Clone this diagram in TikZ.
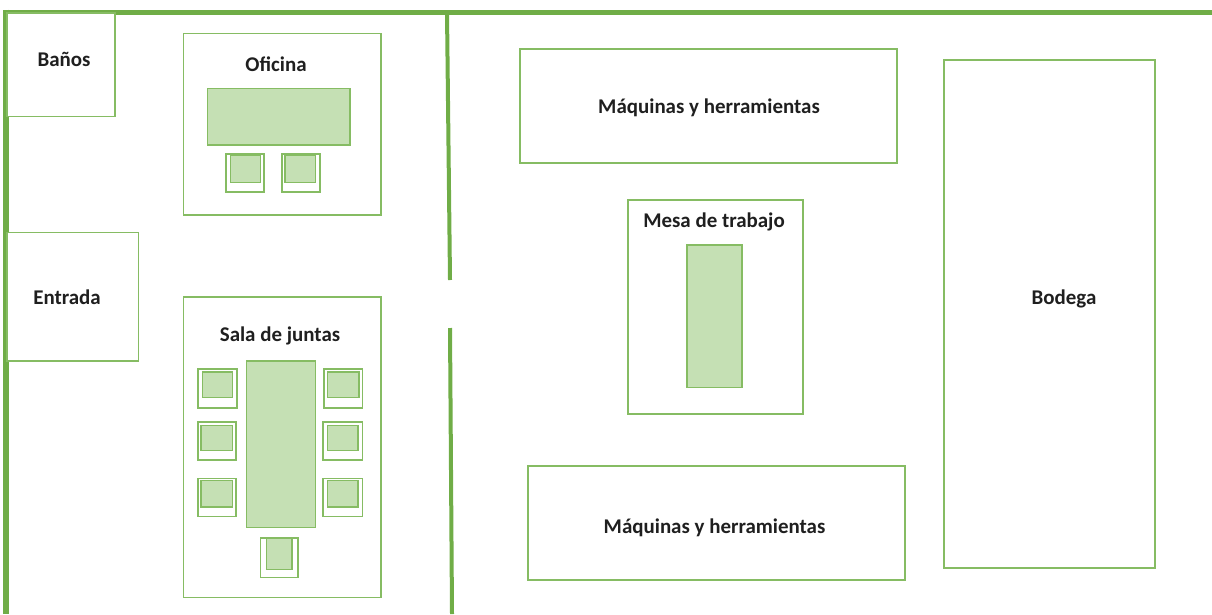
\documentclass[tikz,border=0pt]{standalone}
\usepackage{fontspec}
\setmainfont{Carlito}
\tikzset{
  x=0.75pt,y=-0.75pt,
  wall/.style={draw=wallgreen,line width=4.4pt},
  wallthin/.style={draw=wallgreen,line width=3pt},
  room/.style={draw=linegreen,line width=0.95pt,fill=white},
  seatback/.style={draw=linegreen,line width=0.95pt,fill=white},
  furn/.style={draw=linegreen,line width=1.2pt,fill=furngreen},
  lab/.style={font=\bfseries\fontsize{15.7pt}{18pt}\selectfont,text=black!88,inner sep=0pt},
}
\definecolor{wallgreen}{HTML}{70AD47}
\definecolor{linegreen}{HTML}{86BC63}
\definecolor{furngreen}{HTML}{C5E0B4}
\newcommand{\seat}[8]{%
  \draw[seatback] (#1,#2) rectangle (#3,#4);
  \draw[furn] (#5,#6) rectangle (#7,#8);
}
\begin{document}
\begin{tikzpicture}
\useasboundingbox (0,0) rectangle (1212,614);
% walls
\coordinate (tl) at (3.5,12.5);
\coordinate (tr) at (1212,12.5);
\coordinate (bl) at (6,614);
\coordinate (d1a) at (447,12.5);
\coordinate (d1b) at (450,280);
\coordinate (d2a) at (450,328);
\coordinate (d2b) at (452,614);
\draw[wall] (tl) -- (tr);
\draw[wall] (6,9.5) -- (bl);
\draw[wallthin] (d1a) -- (d1b);
\draw[wallthin] (d2a) -- (d2b);
% rooms
\draw[room] (7,13) rectangle (115,116.5);
\draw[room] (7,232.5) rectangle (138.5,361);
\draw[room] (183.5,33.5) rectangle (381,215);
\draw[room] (183.5,297) rectangle (381,597.5);
\draw[room] (520,49) rectangle (897,163);
\draw[room] (628,200) rectangle (803,414);
\draw[room] (528,466) rectangle (905,580);
\draw[room] (944,60) rectangle (1155,568);
% office furniture
\draw[furn] (207.5,88.5) rectangle (350,145);
\seat{226}{154}{264}{192}{230.5}{155.5}{260.5}{182.5}
\seat{282}{154}{320}{192}{285}{155.5}{315.5}{182.5}
% meeting room furniture
\draw[furn] (246.5,361) rectangle (315.5,527.5);
\seat{198}{369}{237}{408}{202.5}{372}{232.5}{397.5}
\seat{198}{422}{236}{460}{201}{425.5}{232.5}{450.5}
\seat{198}{478.5}{236}{516.5}{201}{480.5}{232.5}{507}
\seat{324}{369}{362.5}{408}{327.5}{372}{359}{397.5}
\seat{323}{422}{362.5}{460}{327.5}{425.5}{358}{450.5}
\seat{323}{478.5}{362.5}{516.5}{327.5}{480.5}{358}{507}
\seat{260.5}{538}{298}{577.5}{266.5}{538.5}{292}{569.5}
% work table
\draw[furn] (687,245) rectangle (742,387.5);
% labels
\node[lab] (banos) at (64,59.5) {Baños};
\node[lab] (entrada) at (67,297.5) {Entrada};
\node[lab] (oficina) at (276,64.5) {Oficina};
\node[lab] (sala) at (280,336) {Sala de juntas};
\node[lab] (maq1) at (709,107.5) {Máquinas y herramientas};
\node[lab] (mesa) at (714,222) {Mesa de trabajo};
\node[lab] (maq2) at (714.5,527.5) {Máquinas y herramientas};
\node[lab] (bodega) at (1064,299) {Bodega};
\end{tikzpicture}
\end{document}
